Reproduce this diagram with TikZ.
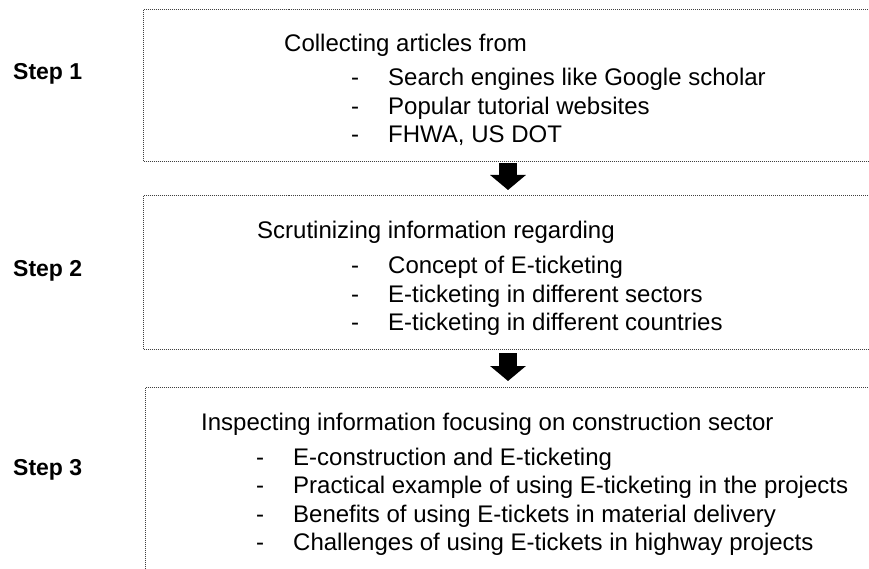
\documentclass[tikz,border=0pt]{standalone}
\usepackage{fontspec}
\setmainfont{Liberation Sans}
\usetikzlibrary{arrows.meta}
\begin{document}
\begin{tikzpicture}[x=1pt,y=-1pt,
  stepbox/.style={draw=black!75, line width=1pt, dash pattern=on 1pt off 1pt, anchor=north west, inner sep=0pt, minimum width=770pt},
  txt/.style={anchor=base west, inner sep=0pt, font=\fontsize{24}{28}\selectfont},
  steplabel/.style={anchor=base west, inner sep=0pt, font=\fontsize{23}{28}\selectfont\bfseries},
  blockarrow/.style={line width=18pt, -{Triangle[width=35pt,length=15pt]}}]
\useasboundingbox (0,0) rectangle (869,569);
\clip (0,0) rectangle (869,569);
% boxes (right side / bottom run past the page edge)
\node[stepbox, minimum height=152pt] (box1) at (143,9) {};
\node[stepbox, minimum height=154pt] (box2) at (143,195) {};
\node[stepbox, minimum height=230pt] (box3) at (145,387) {};
% step labels
\node[steplabel] (s1) at (13,80) {Step 1};
\node[steplabel] (s2) at (13,276) {Step 2};
\node[steplabel] (s3) at (13,475) {Step 3};
% box 1 text
\node[txt] (h1) at (284,52) {Collecting articles from};
\node[txt] (d11) at (351,86) {-};
\node[txt] (t11) at (388,86) {Search engines like Google scholar};
\node[txt] (d12) at (351,115) {-};
\node[txt] (t12) at (388,115) {Popular tutorial websites};
\node[txt] (d13) at (351,143) {-};
\node[txt] (t13) at (388,143) {FHWA, US DOT};
% box 2 text
\node[txt] (h2) at (257,238) {Scrutinizing information regarding};
\node[txt] (d21) at (351,273) {-};
\node[txt] (t21) at (388,273) {Concept of E-ticketing};
\node[txt] (d22) at (351,302) {-};
\node[txt] (t22) at (388,302) {E-ticketing in different sectors};
\node[txt] (d23) at (351,330) {-};
\node[txt] (t23) at (388,330) {E-ticketing in different countries};
% box 3 text
\node[txt] (h3) at (201,430) {Inspecting information focusing on construction sector};
\node[txt] (d31) at (256,465) {-};
\node[txt] (t31) at (293,465) {E-construction and E-ticketing};
\node[txt] (d32) at (256,493) {-};
\node[txt] (t32) at (293,493) {Practical example of using E-ticketing in the projects};
\node[txt] (d33) at (256,522) {-};
\node[txt] (t33) at (293,522) {Benefits of using E-tickets in material delivery};
\node[txt] (d34) at (256,550) {-};
\node[txt] (t34) at (293,550) {Challenges of using E-tickets in highway projects};
% arrows
\coordinate (a1s) at (508,163);
\coordinate (a1e) at (508,190);
\coordinate (a2s) at (508,353);
\coordinate (a2e) at (508,381);
\draw[blockarrow] (a1s) -- (a1e);
\draw[blockarrow] (a2s) -- (a2e);
\end{tikzpicture}
\end{document}
